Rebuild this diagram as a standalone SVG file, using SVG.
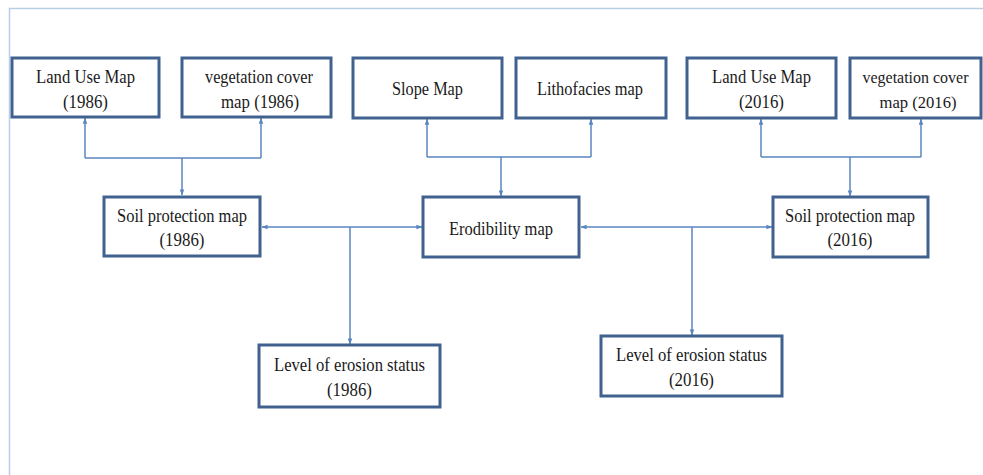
<svg xmlns="http://www.w3.org/2000/svg" width="983" height="475" viewBox="0 0 983 475">
<defs>
<style>
.box{fill:#fff;stroke:#41618f;stroke-width:3}
.t{font-family:"Liberation Serif","Times New Roman",serif;font-size:18.5px;fill:#1a1a1a;text-anchor:middle}
.s{font-size:17px}
.c{fill:none;stroke:#5a86bf;stroke-width:1.5}
</style>
<marker id="a" viewBox="0 0 8 8" refX="7.5" refY="4" markerWidth="6" markerHeight="6" orient="auto-start-reverse" markerUnits="userSpaceOnUse">
<path d="M0,1 L8,4 L0,7 z" fill="#5a86bf"/>
</marker>
</defs>
<rect width="983" height="475" fill="#fff"/>
<path d="M9.5,475 V8.5 H983" fill="none" stroke="#b9cde6" stroke-width="1.5"/>

<g id="connectors">
<path class="c" d="M85,158 H261"/>
<path class="c" d="M85,158 V118" marker-end="url(#a)"/>
<path class="c" d="M261,158 V118" marker-end="url(#a)"/>
<path class="c" d="M182,158 V195" marker-end="url(#a)"/>
<path class="c" d="M427,157 H591"/>
<path class="c" d="M427,157 V119" marker-end="url(#a)"/>
<path class="c" d="M591,157 V119" marker-end="url(#a)"/>
<path class="c" d="M501,157 V196" marker-end="url(#a)"/>
<path class="c" d="M761,157 H921"/>
<path class="c" d="M761,157 V119" marker-end="url(#a)"/>
<path class="c" d="M921,157 V119" marker-end="url(#a)"/>
<path class="c" d="M850,157 V196" marker-end="url(#a)"/>
<path class="c" d="M262,227 H422" marker-start="url(#a)" marker-end="url(#a)"/>
<path class="c" d="M350,227 V344" marker-end="url(#a)"/>
<path class="c" d="M581,227 H772" marker-start="url(#a)" marker-end="url(#a)"/>
<path class="c" d="M692,227 V335" marker-end="url(#a)"/>
</g>

<g id="landuse1986"><rect class="box" x="12" y="58" width="147" height="59"/><text class="t" x="85.5" y="83" textLength="99" lengthAdjust="spacingAndGlyphs">Land Use Map</text><text class="t" x="85.5" y="108" textLength="45" lengthAdjust="spacingAndGlyphs">(1986)</text></g>
<g id="veg1986"><rect class="box" x="182" y="58" width="149" height="59"/><text class="t" x="259" y="83" textLength="108" lengthAdjust="spacingAndGlyphs">vegetation cover</text><text class="t" x="260" y="108" textLength="78" lengthAdjust="spacingAndGlyphs">map (1986)</text></g>
<g id="slope"><rect class="box" x="353" y="58" width="149" height="60"/><text class="t" x="427.5" y="95" textLength="71" lengthAdjust="spacingAndGlyphs">Slope Map</text></g>
<g id="litho"><rect class="box" x="516" y="58" width="150" height="60"/><text class="t" x="590" y="95" textLength="106" lengthAdjust="spacingAndGlyphs">Lithofacies map</text></g>
<g id="landuse2016"><rect class="box" x="687" y="58" width="149" height="60"/><text class="t" x="761.5" y="83" textLength="99" lengthAdjust="spacingAndGlyphs">Land Use Map</text><text class="t" x="761.5" y="108" textLength="45" lengthAdjust="spacingAndGlyphs">(2016)</text></g>
<g id="veg2016"><rect class="box" x="850" y="58" width="131" height="60"/><text class="t s" x="915.5" y="83" textLength="106" lengthAdjust="spacingAndGlyphs">vegetation cover</text><text class="t s" x="918" y="108" textLength="77" lengthAdjust="spacingAndGlyphs">map (2016)</text></g>
<g id="soil1986"><rect class="box" x="104" y="197" width="156" height="59"/><text class="t" x="182" y="222" textLength="130" lengthAdjust="spacingAndGlyphs">Soil protection map</text><text class="t" x="182" y="246" textLength="45" lengthAdjust="spacingAndGlyphs">(1986)</text></g>
<g id="erod"><rect class="box" x="423" y="197" width="156" height="60"/><text class="t" x="501" y="235" textLength="104" lengthAdjust="spacingAndGlyphs">Erodibility map</text></g>
<g id="soil2016"><rect class="box" x="773" y="197" width="155" height="60"/><text class="t" x="850" y="222" textLength="130" lengthAdjust="spacingAndGlyphs">Soil protection map</text><text class="t" x="850" y="246" textLength="45" lengthAdjust="spacingAndGlyphs">(2016)</text></g>
<g id="erosion1986"><rect class="box" x="259" y="345" width="181" height="62"/><text class="t" x="349.5" y="371" textLength="151" lengthAdjust="spacingAndGlyphs">Level of erosion status</text><text class="t" x="349.5" y="396" textLength="45" lengthAdjust="spacingAndGlyphs">(1986)</text></g>
<g id="erosion2016"><rect class="box" x="601" y="336" width="181" height="60"/><text class="t" x="691.5" y="361" textLength="151" lengthAdjust="spacingAndGlyphs">Level of erosion status</text><text class="t" x="691.5" y="386" textLength="45" lengthAdjust="spacingAndGlyphs">(2016)</text></g>
</svg>
